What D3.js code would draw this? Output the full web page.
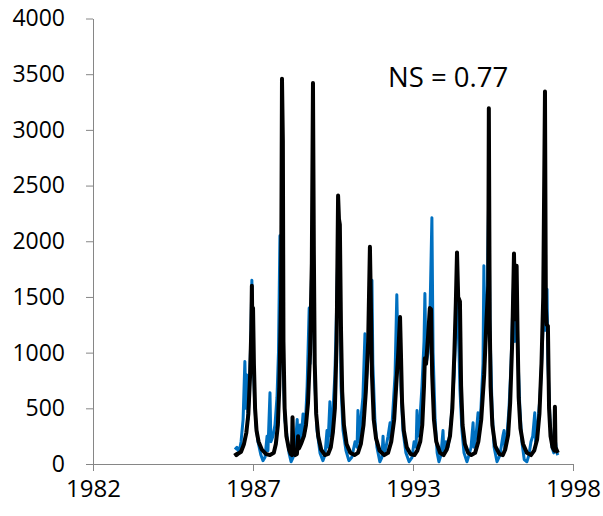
<!DOCTYPE html>
<html>
<head>
<meta charset="utf-8">
<script src="https://cdn.jsdelivr.net/npm/d3@7"></script>
<style>
  body { margin: 0; background: #fff; }
  svg text { font-family: "Open Sans", sans-serif; fill: #000; }
</style>
</head>
<body>
<script>
var obsYears = [1986.91, 1986.98, 1987.05, 1987.12, 1987.19, 1987.25, 1987.29, 1987.32, 1987.36, 1987.41,
  1987.46, 1987.49, 1987.53, 1987.58, 1987.63, 1987.70, 1987.80, 1987.87, 1987.94, 1988.01,
  1988.04, 1988.11, 1988.14, 1988.21, 1988.28, 1988.35, 1988.40, 1988.45, 1988.49, 1988.52,
  1988.55, 1988.62, 1988.69, 1988.76, 1988.83, 1988.90, 1988.97, 1989.04, 1989.07, 1989.14,
  1989.17, 1989.24, 1989.31, 1989.38, 1989.45, 1989.48, 1989.55, 1989.58, 1989.65, 1989.72,
  1989.82, 1989.92, 1989.99, 1990.06, 1990.09, 1990.16, 1990.20, 1990.27, 1990.33, 1990.38,
  1990.44, 1990.51, 1990.54, 1990.61, 1990.71, 1990.81, 1990.91, 1991.02, 1991.09, 1991.12,
  1991.16, 1991.22, 1991.29, 1991.36, 1991.40, 1991.47, 1991.53, 1991.60, 1991.63, 1991.70,
  1991.77, 1991.87, 1991.94, 1991.98, 1992.01, 1992.08, 1992.15, 1992.22, 1992.25, 1992.32,
  1992.39, 1992.45, 1992.49, 1992.56, 1992.59, 1992.66, 1992.76, 1992.87, 1992.97, 1993.04,
  1993.11, 1993.14, 1993.17, 1993.24, 1993.31, 1993.38, 1993.41, 1993.45, 1993.52, 1993.58,
  1993.65, 1993.69, 1993.76, 1993.83, 1993.89, 1993.96, 1994.03, 1994.06, 1994.13, 1994.20,
  1994.27, 1994.34, 1994.41, 1994.48, 1994.51, 1994.58, 1994.61, 1994.68, 1994.75, 1994.85,
  1994.92, 1994.99, 1995.06, 1995.09, 1995.16, 1995.23, 1995.26, 1995.33, 1995.40, 1995.43,
  1995.47, 1995.54, 1995.60, 1995.64, 1995.71, 1995.78, 1995.88, 1995.98, 1996.08, 1996.12,
  1996.15, 1996.22, 1996.29, 1996.36, 1996.43, 1996.46, 1996.49, 1996.54, 1996.59, 1996.66,
  1996.73, 1996.81, 1996.90, 1996.97, 1997.04, 1997.10, 1997.17, 1997.20, 1997.27, 1997.35,
  1997.42, 1997.48, 1997.52, 1997.59, 1997.62, 1997.69, 1997.76, 1997.82, 1997.88, 1997.93,
  1997.96];
var obsFlow = [130, 150, 100, 200, 400, 920, 500, 800, 400, 700,
  1200, 1650, 1000, 600, 350, 200, 80, 30, 60, 250,
  120, 640, 200, 250, 350, 600, 1000, 2050, 1200, 1500,
  900, 400, 250, 100, 20, 60, 150, 400, 150, 350,
  200, 450, 300, 700, 1400, 900, 2000, 1600, 700, 300,
  100, 30, 80, 300, 150, 560, 250, 500, 800, 1300,
  2000, 1500, 700, 300, 120, 30, 60, 200, 150, 480,
  200, 400, 600, 1170, 700, 1000, 1400, 1650, 900, 400,
  150, 20, 60, 250, 80, 150, 250, 370, 200, 500,
  800, 1520, 1000, 1300, 700, 300, 100, 20, 60, 200,
  150, 480, 250, 400, 700, 1100, 1530, 900, 1000, 1300,
  2210, 1000, 400, 100, 20, 80, 300, 100, 200, 150,
  280, 500, 800, 1300, 1500, 1000, 670, 300, 100, 20,
  80, 150, 370, 150, 250, 460, 250, 500, 900, 1780,
  1000, 1400, 2500, 1200, 500, 150, 20, 80, 250, 300,
  120, 250, 500, 900, 1500, 1700, 1100, 1750, 1000, 500,
  200, 40, 20, 80, 200, 250, 460, 200, 350, 600,
  1000, 1400, 1200, 1570, 900, 400, 150, 100, 200, 100,
  80];

// simulated flow (black)
var simYears = [1986.91, 1986.96, 1987.01, 1987.12, 1987.22, 1987.30, 1987.37, 1987.43, 1987.47, 1987.49,
  1987.51, 1987.53, 1987.56, 1987.60, 1987.65, 1987.72, 1987.83, 1987.97, 1988.11, 1988.24,
  1988.31, 1988.38, 1988.43, 1988.49, 1988.52, 1988.55, 1988.57, 1988.61, 1988.67, 1988.76,
  1988.82, 1988.86, 1988.88, 1988.91, 1988.97, 1989.03, 1989.07, 1989.10, 1989.17, 1989.27,
  1989.34, 1989.41, 1989.48, 1989.54, 1989.58, 1989.61, 1989.64, 1989.69, 1989.76, 1989.86,
  1989.99, 1990.10, 1990.19, 1990.26, 1990.33, 1990.39, 1990.44, 1990.47, 1990.50, 1990.54,
  1990.58, 1990.64, 1990.73, 1990.86, 1991.00, 1991.12, 1991.22, 1991.31, 1991.39, 1991.47,
  1991.53, 1991.56, 1991.60, 1991.66, 1991.74, 1991.86, 1992.02, 1992.15, 1992.26, 1992.36,
  1992.44, 1992.50, 1992.56, 1992.59, 1992.63, 1992.69, 1992.79, 1992.92, 1993.05, 1993.15,
  1993.25, 1993.32, 1993.38, 1993.41, 1993.45, 1993.52, 1993.58, 1993.62, 1993.66, 1993.72,
  1993.80, 1993.93, 1994.05, 1994.16, 1994.27, 1994.35, 1994.42, 1994.47, 1994.51, 1994.55,
  1994.61, 1994.65, 1994.70, 1994.78, 1994.89, 1995.00, 1995.13, 1995.24, 1995.34, 1995.44,
  1995.52, 1995.58, 1995.60, 1995.63, 1995.66, 1995.72, 1995.82, 1995.96, 1996.08, 1996.16,
  1996.26, 1996.33, 1996.40, 1996.46, 1996.50, 1996.55, 1996.58, 1996.62, 1996.68, 1996.77,
  1996.90, 1997.04, 1997.15, 1997.25, 1997.33, 1997.40, 1997.46, 1997.52, 1997.55, 1997.58,
  1997.62, 1997.66, 1997.71, 1997.78, 1997.84, 1997.86, 1997.88, 1997.96];
var simFlow = [100, 80, 90, 110, 180, 280, 450, 800, 1200, 1600,
  1150, 1400, 900, 500, 300, 200, 130, 90, 80, 100,
  180, 350, 700, 1500, 3460, 2900, 1100, 500, 250, 130,
  90, 80, 420, 100, 80, 90, 250, 140, 180, 250,
  350, 550, 1000, 1800, 3420, 1900, 900, 450, 250, 130,
  80, 90, 150, 280, 500, 1100, 2410, 2200, 2150, 1200,
  650, 350, 180, 100, 80, 100, 180, 350, 650, 1100,
  1950, 1500, 800, 400, 230, 120, 80, 100, 200, 400,
  750, 1000, 1320, 1000, 550, 300, 150, 90, 80, 120,
  200, 350, 700, 950, 900, 1150, 1400, 1390, 800, 400,
  200, 100, 80, 130, 250, 500, 1000, 1450, 1900, 1500,
  1460, 700, 350, 180, 100, 80, 100, 200, 400, 800,
  1300, 1600, 3195, 1300, 700, 350, 160, 90, 80, 130,
  260, 550, 1100, 1890, 1300, 1780, 1200, 600, 320, 180,
  100, 80, 120, 220, 450, 900, 1500, 3345, 1400, 1250,
  1240, 500, 250, 150, 120, 513, 150, 100];

var yTicks = [0, 500, 1000, 1500, 2000, 2500, 3000, 3500, 4000];
var axisStart = new Date(1982, 0, 20);
var tickStepDays = 2000;
var tickCount = 4;
var label = "NS = 0.77";

// turns a decimal year into a date
function yearToDate(v) {
  var yr = Math.floor(v);
  var s = new Date(yr, 0, 1), e = new Date(yr + 1, 0, 1);
  return new Date(+s + (v - yr) * (e - s));
}

var width = 603, height = 516;
var plotLeft = 93, plotRight = 573, plotTop = 18.5, plotBottom = 464;
var axisGrey = "#868686";

var svg = d3.select("body").append("svg")
  .attr("width", width)
  .attr("height", height);

var xTickDates = d3.range(tickCount).map(function(i) {
  return d3.timeDay.offset(axisStart, i * tickStepDays);
});

var x = d3.scaleTime()
  .domain([xTickDates[0], xTickDates[tickCount - 1]])
  .range([plotLeft, plotRight]);

var y = d3.scaleLinear()
  .domain([0, 4000])
  .range([plotBottom, plotTop]);

// y axis
var yAxis = svg.append("g")
  .attr("transform", "translate(" + plotLeft + ",0)")
  .call(d3.axisLeft(y).tickValues(yTicks).tickFormat(d3.format("d"))
    .tickSize(7).tickSizeOuter(0).tickPadding(21));
yAxis.selectAll("text").style("font-size", "23px");

// x axis
var xAxis = svg.append("g")
  .attr("transform", "translate(0," + plotBottom + ")")
  .call(d3.axisBottom(x).tickValues(xTickDates).tickSize(7).tickSizeOuter(0)
    .tickPadding(9).tickFormat(d3.timeFormat("%Y")));
xAxis.selectAll("text").style("font-size", "24px");

svg.selectAll(".domain, .tick line")
  .attr("stroke", axisGrey)
  .attr("stroke-width", 1);

var line = d3.line()
  .x(function(d) { return x(yearToDate(d[0])); })
  .y(function(d) { return y(d[1]); });

var obs = d3.zip(obsYears, obsFlow);
var sim = d3.zip(simYears, simFlow);

svg.append("path")
  .datum(obs)
  .attr("fill", "none")
  .attr("stroke", "#0070C0")
  .attr("stroke-width", 3)
  .attr("stroke-linejoin", "round")
  .attr("d", line);

svg.append("path")
  .datum(sim)
  .attr("fill", "none")
  .attr("stroke", "#000")
  .attr("stroke-width", 4)
  .attr("stroke-linejoin", "round")
  .attr("d", line);

svg.append("text")
  .attr("x", 388)
  .attr("y", 87)
  .style("font-size", "27.5px")
  .text(label);
</script>
</body>
</html>
